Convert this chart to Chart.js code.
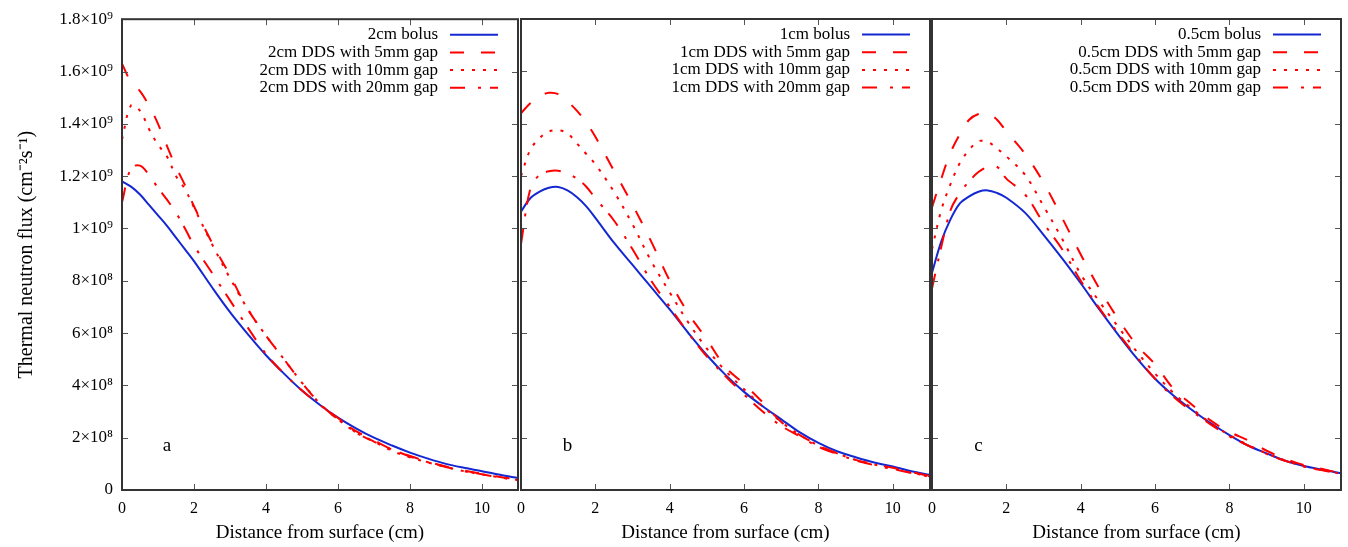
<!DOCTYPE html>
<html>
<head>
<meta charset="utf-8">
<title>Thermal neutron flux</title>
<script src="https://cdn.jsdelivr.net/npm/chart.js@4.4.1/dist/chart.umd.min.js"></script>
<style>
html,body{margin:0;padding:0;background:#fff;}
#wrap{position:relative;width:1348px;height:547px;overflow:hidden;}
canvas{position:absolute;top:0;}
</style>
</head>
<body>
<div id="wrap">
  <canvas id="panelA" width="530" height="547" style="left:0px"></canvas>
  <canvas id="panelB" width="440" height="547" style="left:505px"></canvas>
  <canvas id="panelC" width="433" height="547" style="left:915px"></canvas>
</div>
<script>
// DATA
// distance from surface (cm), same sampling for every panel
const distance = [0,0.25,0.5,0.75,1,1.25,1.5,1.75,2,2.5,3,3.5,4,4.5,5,5.5,6,6.5,7,7.5,8,8.5,9,9.5,10,10.5,11];

// thermal neutron flux, in units of 1e9 cm^-2 s^-1
// panel a: 2cm
const a_bolus = [1.18,1.16,1.13,1.09,1.05,1.01,0.965,0.92,0.875,0.775,0.68,0.595,0.515,0.445,0.38,0.325,0.277,0.236,0.20,0.17,0.143,0.12,0.10,0.085,0.072,0.058,0.046];
const a_gap5  = [1.63,1.56,1.525,1.47,1.40,1.315,1.235,1.165,1.085,0.945,0.82,0.69,0.59,0.50,0.41,0.33,0.27,0.225,0.19,0.155,0.13,0.108,0.09,0.075,0.062,0.05,0.04];
const a_gap10 = [1.34,1.47,1.45,1.38,1.32,1.275,1.20,1.15,1.08,0.94,0.81,0.69,0.59,0.50,0.41,0.33,0.27,0.22,0.185,0.15,0.125,0.105,0.088,0.072,0.06,0.048,0.038];
const a_gap20 = [1.10,1.23,1.24,1.205,1.155,1.11,1.06,1.0,0.935,0.83,0.725,0.62,0.52,0.445,0.38,0.325,0.275,0.22,0.185,0.155,0.128,0.106,0.088,0.072,0.06,0.048,0.038];
// panel b: 1cm
const b_bolus = [1.064,1.115,1.14,1.155,1.158,1.145,1.12,1.085,1.04,0.945,0.86,0.775,0.69,0.60,0.515,0.44,0.375,0.32,0.27,0.22,0.18,0.148,0.125,0.105,0.09,0.072,0.058];
const b_gap5  = [1.44,1.478,1.505,1.518,1.513,1.485,1.45,1.405,1.35,1.22,1.09,0.95,0.80,0.675,0.575,0.47,0.405,0.335,0.26,0.21,0.172,0.14,0.115,0.098,0.085,0.068,0.054];
const b_gap10 = [1.20,1.30,1.345,1.37,1.375,1.363,1.325,1.285,1.245,1.14,1.015,0.875,0.755,0.64,0.54,0.455,0.385,0.32,0.26,0.21,0.17,0.14,0.115,0.097,0.082,0.066,0.052];
const b_gap20 = [0.94,1.15,1.205,1.218,1.22,1.21,1.19,1.16,1.115,1.03,0.92,0.80,0.70,0.60,0.51,0.435,0.365,0.30,0.245,0.205,0.165,0.138,0.113,0.095,0.08,0.065,0.05];
// panel c: 0.5cm
const c_bolus = [0.83,0.95,1.035,1.095,1.122,1.14,1.145,1.135,1.117,1.06,0.975,0.885,0.79,0.69,0.595,0.505,0.425,0.36,0.305,0.255,0.21,0.17,0.14,0.112,0.092,0.078,0.064];
const c_gap5  = [1.08,1.19,1.29,1.36,1.415,1.437,1.44,1.415,1.37,1.285,1.175,1.04,0.90,0.77,0.655,0.555,0.48,0.386,0.325,0.265,0.222,0.19,0.15,0.12,0.095,0.08,0.064];
const c_gap10 = [0.92,1.07,1.17,1.25,1.30,1.333,1.33,1.305,1.275,1.205,1.085,0.96,0.825,0.72,0.625,0.53,0.445,0.37,0.31,0.255,0.21,0.172,0.14,0.113,0.091,0.076,0.062];
const c_gap20 = [0.77,0.93,1.07,1.135,1.18,1.215,1.235,1.235,1.19,1.13,1.02,0.92,0.80,0.695,0.60,0.51,0.425,0.355,0.30,0.25,0.205,0.17,0.138,0.112,0.09,0.075,0.061];

const thickness = ['2cm','1cm','0.5cm'];
const seriesNames = ['bolus','DDS with 5mm gap','DDS with 10mm gap','DDS with 20mm gap'];
const panelLetters = ['a','b','c'];

// tick labels
const xTicks = [0,2,4,6,8,10];
const yTicks = [0,0.2,0.4,0.6,0.8,1.0,1.2,1.4,1.6,1.8];
const yTickLabels = ['0','2×10⁸','4×10⁸','6×10⁸','8×10⁸','1×10⁹','1.2×10⁹','1.4×10⁹','1.6×10⁹','1.8×10⁹'];

// STYLE
const FONT = '"Liberation Serif", "Times New Roman", serif';
const lineStyles = [
  {color:'#1428d2', dash:[]},
  {color:'#ff0000', dash:[14,17]},
  {color:'#ff0000', dash:[3,8]},
  {color:'#ff0000', dash:[15,13,3,9]}
];

// frame, inward ticks, key and panel letter (gnuplot look)
const gnuplotLook = {
  id:'gnuplotLook',
  afterDatasetsDraw(chart){
    const {ctx, chartArea:{left,right,top,bottom}, scales:{x,y}} = chart;
    ctx.save();
    ctx.strokeStyle = '#555';
    ctx.lineWidth = 1;
    ctx.beginPath();
    xTicks.forEach(v=>{
      const px = Math.round(x.getPixelForValue(v)) + 0.5;
      ctx.moveTo(px,bottom); ctx.lineTo(px,bottom-6);
      ctx.moveTo(px,top); ctx.lineTo(px,top+6);
    });
    yTicks.forEach(v=>{
      const py = Math.round(y.getPixelForValue(v)) + 0.5;
      ctx.moveTo(left,py); ctx.lineTo(left+6,py);
      ctx.moveTo(right,py); ctx.lineTo(right-6,py);
    });
    ctx.stroke();
    ctx.strokeStyle = '#333';
    ctx.lineWidth = 2;
    ctx.strokeRect(left,top,right-left,bottom-top);

    // key
    ctx.font = '17px ' + FONT;
    ctx.fillStyle = '#000';
    ctx.textAlign = 'right';
    ctx.textBaseline = 'middle';
    chart.data.datasets.forEach((ds,i)=>{
      const yy = top + 15.5 + i*17.7;
      ctx.fillText(ds.label, right-80, yy);
      ctx.strokeStyle = ds.borderColor;
      ctx.lineWidth = 2;
      ctx.setLineDash(ds.borderDash);
      ctx.beginPath();
      ctx.moveTo(right-68, yy); ctx.lineTo(right-20, yy);
      ctx.stroke();
      ctx.setLineDash([]);
    });

    // panel letter
    ctx.font = '19px ' + FONT;
    ctx.textAlign = 'center';
    ctx.fillText(chart.options.plugins.gnuplotLook.letter, x.getPixelForValue(1.25), y.getPixelForValue(0.17));
    ctx.restore();
  }
};

function makePanel(canvasId, idx, series, padLeft, padRight, showY){
  const datasets = series.map((vals,i)=>({
    label: thickness[idx] + ' ' + seriesNames[i],
    data: distance.map((d,k)=>({x:d, y:vals[k]})),
    borderColor: lineStyles[i].color,
    borderDash: lineStyles[i].dash,
    borderWidth: 2,
    pointRadius: 0,
    tension: 0.35,
    fill: false,
    order: i===0 ? 1 : 0
  }));

  return new Chart(document.getElementById(canvasId), {
    type:'line',
    data:{datasets},
    options:{
      responsive:false,
      animation:false,
      layout:{padding:{left:padLeft, right:padRight, top:19, bottom:0}},
      plugins:{legend:{display:false}, tooltip:{enabled:false}, gnuplotLook:{letter:panelLetters[idx]}},
      scales:{
        x:{
          type:'linear', min:0, max:11,
          grid:{display:false, drawTicks:false},
          border:{display:false},
          afterBuildTicks: s => { s.ticks = xTicks.map(v=>({value:v})); },
          afterFit: s => { s.height = 57; },
          ticks:{padding:9, color:'#000', font:{family:FONT, size:16}, callback:v=>String(v)},
          title:{display:true, text:'Distance from surface (cm)', color:'#000',
                 font:{family:FONT, size:19}, padding:{top:0, bottom:3}}
        },
        y:{
          type:'linear', min:0, max:1.8, display:showY,
          grid:{display:false, drawTicks:false},
          border:{display:false},
          afterBuildTicks: s => { s.ticks = yTicks.map(v=>({value:v})); },
          afterFit: s => { s.width = showY ? 122 : 0; },
          ticks:{padding:9, color:'#000', font:{family:FONT, size:17}, callback:(v,i)=>yTickLabels[i]},
          title:{display:true, text:'Thermal neutron flux (cm⁻²s⁻¹)', color:'#000',
                 font:{family:FONT, size:20}, padding:{top:15, bottom:0}}
        }
      }
    },
    plugins:[gnuplotLook]
  });
}

makePanel('panelA', 0, [a_bolus,a_gap5,a_gap10,a_gap20], 0, 12, true);
makePanel('panelB', 1, [b_bolus,b_gap5,b_gap10,b_gap20], 16, 15, false);
makePanel('panelC', 2, [c_bolus,c_gap5,c_gap10,c_gap20], 17, 7, false);
</script>
</body>
</html>
